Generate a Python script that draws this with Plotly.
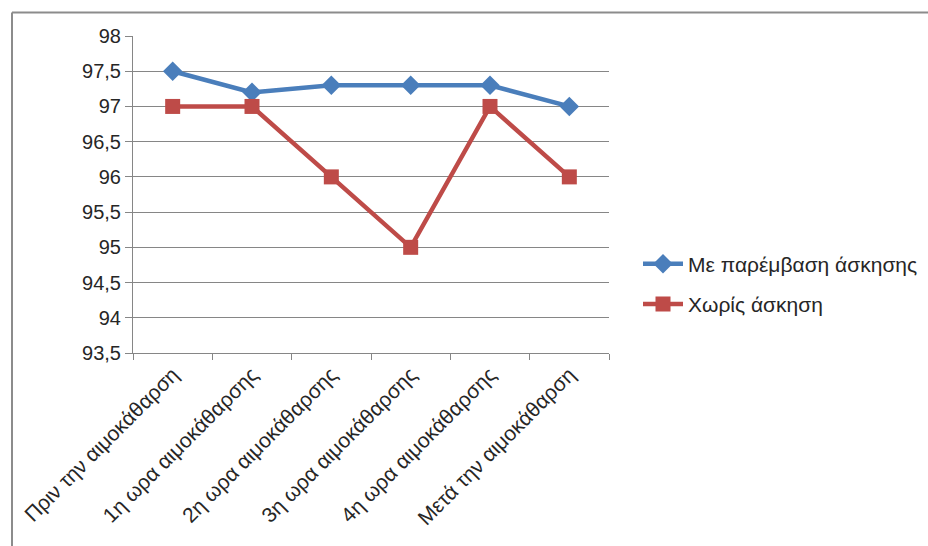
import plotly.graph_objects as go

categories = ["Πριν την αιμοκάθαρση", "1η ωρα αιμοκάθαρσης", "2η ωρα αιμοκάθαρσης",
              "3η ωρα αιμοκάθαρσης", "4η ωρα αιμοκάθαρσης", "Μετά την αιμοκάθαρση"]
series_names = ["Με παρέμβαση άσκησης", "Χωρίς άσκηση"]
with_exercise = [97.5, 97.2, 97.3, 97.3, 97.3, 97.0]
without_exercise = [97.0, 97.0, 96.0, 95.0, 97.0, 96.0]
y_ticks = [93.5, 94, 94.5, 95, 95.5, 96, 96.5, 97, 97.5, 98]
y_tick_labels = ["93,5", "94", "94,5", "95", "95,5", "96", "96,5", "97", "97,5", "98"]

FONT = "Liberation Sans"
W, H = 928, 546
L, R, T, B = 133, 319, 35.5, 193
pw, ph = W - L - R, H - T - B

fig = go.Figure()
fig.add_trace(go.Scatter(x=categories, y=with_exercise, name=series_names[0],
                         legendgroup="a", mode="lines+markers",
                         line=dict(color="#4A7EBB", width=4.5),
                         marker=dict(symbol="diamond", size=15, color="#4A7EBB")))
fig.add_trace(go.Scatter(x=categories, y=without_exercise, name=series_names[1],
                         legendgroup="b", mode="lines+markers",
                         line=dict(color="#BE4B48", width=4.5),
                         marker=dict(symbol="square", size=15, color="#BE4B48")))

# outer chart border (top and left visible)
bx0 = (12 - L) / pw
by1 = (H - B - 12) / ph
fig.add_shape(type="line", xref="paper", yref="paper", x0=bx0, x1=2, y0=by1, y1=by1,
              line=dict(color="#8C8C8C", width=2))
fig.add_shape(type="line", xref="paper", yref="paper", x0=bx0, x1=bx0, y0=by1, y1=-2,
              line=dict(color="#8C8C8C", width=2))

fig.update_layout(
    width=W, height=H,
    margin=dict(l=L, r=R, t=T, b=B, autoexpand=False),
    paper_bgcolor="white", plot_bgcolor="white",
    font=dict(family=FONT, size=21, color="#262626"),
    showlegend=True,
    legend=dict(x=(638 - L) / pw, y=(H - B - 284) / ph, xanchor="left", yanchor="middle",
                font=dict(family=FONT, size=21, color="#262626"),
                traceorder="grouped", tracegroupgap=10, itemwidth=40,
                bgcolor="rgba(0,0,0,0)"),
    xaxis=dict(type="category", tickangle=-45, showgrid=False,
               showline=True, linecolor="#868686", linewidth=1,
               ticks="outside", ticklen=6, tickcolor="#868686", tickson="boundaries",
               tickfont=dict(family=FONT, size=21, color="#262626"),
               range=[-0.5, 5.5], fixedrange=True),
    yaxis=dict(range=[93.5, 98], tickvals=y_ticks, ticktext=y_tick_labels,
               ticksuffix="\u00a0",
               showgrid=True, gridcolor="#868686", gridwidth=1,
               showline=True, linecolor="#868686", linewidth=1,
               ticks="outside", ticklen=7, tickcolor="#868686",
               tickfont=dict(family=FONT, size=20, color="#262626"),
               zeroline=False, fixedrange=True),
)

fig.write_html("out.html")
